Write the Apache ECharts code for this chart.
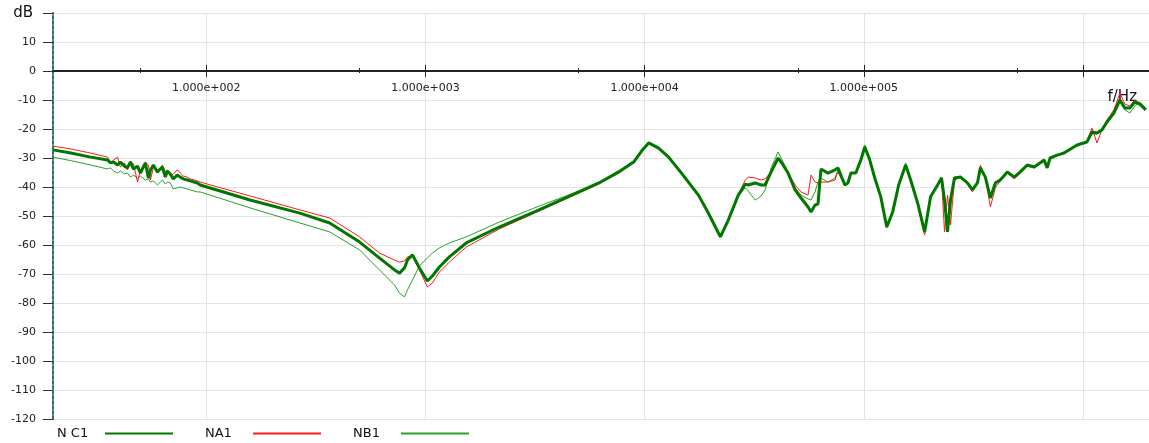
<!DOCTYPE html>
<html>
<head>
<meta charset="utf-8">
<script src="https://cdn.jsdelivr.net/npm/echarts@6/dist/echarts.min.js"></script>
<style>
  html, body { margin: 0; padding: 0; background: #ffffff; }
  #chart { width: 1149px; height: 443px; }
</style>
</head>
<body>
<div id="chart"></div>
<script>
// Frequency points (Hz) shared by the three measured traces
const freqHz = [
  20, 24.1, 29.7, 35.5, 36.6, 37.8, 39.4, 40.6, 42.4, 43.7,
  45.1, 46.6, 48.6, 50.1, 52.8, 54.5, 55.7, 57.4, 59.9, 63.1,
  65.1, 66.5, 68.6, 70.8, 73.8, 76.2, 78.6, 82.0, 84.6, 91.0,
  93.9, 158.5, 267.5, 366, 501, 618, 723, 762, 803, 828,
  873, 939, 1021, 1076, 1158, 1286, 1536, 2170, 3298, 5012,
  6180, 7617, 8913, 9691, 10430, 11580, 12860, 14730, 17600, 19540,
  20810, 22160, 24090, 26750, 28780, 29700, 31950, 34020, 35480, 37780,
  40650, 42830, 45130, 48580, 51720, 55670, 57430, 59900, 61800, 63760,
  68630, 73860, 76180, 81960, 84580, 87290, 91960, 96910, 101050, 106480,
  112200, 119500, 127230, 135450, 144230, 155200, 163560, 176010, 189380, 201640,
  217000, 226200, 233400, 240900, 248600, 259200, 276000, 297000, 313100, 329800,
  340200, 358500, 377900, 398100, 419500, 451300, 485800, 517200, 556600, 598800,
  664800, 686200, 707900, 761700, 819600, 939100, 1042000, 1099000, 1158000, 1220000,
  1286000, 1383000, 1473000, 1552000, 1635000, 1723000, 1816000, 1934000
];

// Level in dB for each trace
const nc1 = [
  -27.2, -28.3, -29.7, -30.7, -31.7, -31.4, -32.4, -31.4, -32.8, -33.4,
  -31.4, -33.8, -32.8, -35.2, -31.7, -36.9, -34.1, -32.4, -34.8, -33.1,
  -36.6, -34.5, -35.5, -37.2, -35.9, -36.6, -37.2, -37.6, -37.9, -38.6,
  -39.3, -44.5, -49.0, -52.4, -59.0, -64.5, -68.6, -69.7, -67.9, -65.2,
  -63.4, -67.9, -72.4, -70.7, -67.6, -64.1, -59.3, -53.8, -47.9, -41.7,
  -38.6, -34.8, -31.4, -27.6, -24.8, -26.6, -29.7, -35.2, -42.8, -49.0,
  -53.1, -57.2, -51.4, -42.8, -39.0, -39.3, -38.6, -39.3, -39.3, -34.8,
  -30.0, -32.4, -35.2, -41.0, -43.8, -46.9, -48.6, -46.2, -45.9, -33.8,
  -35.2, -34.1, -33.4, -39.3, -38.6, -35.2, -35.2, -30.7, -26.2, -30.7,
  -36.9, -43.4, -53.8, -48.6, -39.3, -32.4, -37.6, -45.5, -55.5, -43.4,
  -39.3, -36.9, -44.5, -55.5, -44.5, -36.9, -36.6, -38.6, -41.0, -38.6,
  -33.4, -36.6, -43.8, -38.6, -37.6, -34.8, -36.6, -34.8, -32.4, -33.1,
  -30.7, -33.4, -30.0, -29.0, -28.3, -25.5, -24.5, -21.0, -21.4, -20.3,
  -17.6, -14.5, -10.0, -12.8, -12.8, -10.7, -11.4, -13.4
];

const na1 = [
  -25.9, -26.9, -28.3, -29.7, -31.7, -30.7, -29.7, -33.1, -31.7, -34.1,
  -31.0, -32.1, -38.3, -34.1, -31.4, -32.4, -37.6, -33.1, -35.2, -32.4,
  -34.8, -34.1, -36.2, -35.5, -34.1, -35.2, -36.2, -36.6, -37.2, -37.9,
  -38.3, -43.1, -47.9, -50.7, -57.2, -62.8, -65.2, -65.9, -65.5, -64.1,
  -63.8, -68.6, -74.5, -73.1, -69.3, -65.9, -60.7, -54.5, -48.3, -42.1,
  -39.0, -35.2, -31.7, -27.9, -24.8, -26.6, -29.7, -35.2, -42.8, -49.0,
  -53.1, -56.9, -51.4, -42.8, -37.6, -36.6, -36.9, -37.6, -37.2, -34.8,
  -30.0, -32.4, -35.2, -39.3, -41.7, -42.8, -35.9, -38.3, -38.6, -38.3,
  -38.3, -37.6, -34.8, -39.3, -38.6, -35.2, -35.2, -30.7, -26.6, -30.7,
  -36.9, -43.4, -54.1, -48.6, -39.3, -32.4, -37.6, -45.9, -56.6, -43.4,
  -39.3, -36.6, -55.5, -42.8, -53.1, -37.6, -36.6, -39.0, -41.7, -38.6,
  -32.4, -36.9, -46.9, -40.3, -37.9, -35.2, -37.2, -35.2, -32.8, -33.4,
  -31.0, -33.1, -30.3, -29.0, -27.9, -25.9, -24.1, -19.7, -24.8, -20.3,
  -16.9, -13.4, -7.6, -11.4, -12.1, -10.0, -11.0, -13.4
];

const nb1 = [
  -29.7, -30.9, -32.4, -33.8, -33.4, -34.5, -35.2, -34.5, -35.5, -35.2,
  -36.6, -35.9, -36.9, -36.2, -37.6, -37.2, -38.3, -37.9, -39.3, -37.6,
  -39.0, -38.3, -38.6, -40.7, -40.3, -40.0, -40.3, -40.7, -41.0, -41.7,
  -41.7, -47.2, -52.4, -55.5, -61.7, -68.6, -73.8, -76.6, -77.9, -75.5,
  -72.1, -67.2, -64.5, -62.8, -61.0, -59.3, -57.2, -52.1, -46.6, -41.4,
  -38.6, -34.5, -31.0, -27.2, -24.5, -26.2, -29.3, -34.8, -42.4, -48.6,
  -52.8, -56.9, -51.4, -43.1, -40.3, -41.4, -44.5, -43.1, -41.0, -33.4,
  -27.9, -31.4, -34.8, -40.3, -42.8, -44.1, -44.5, -41.7, -38.3, -36.9,
  -38.3, -36.9, -34.1, -39.3, -38.6, -35.2, -34.8, -30.3, -25.5, -30.3,
  -36.6, -43.4, -53.4, -48.3, -39.0, -31.7, -37.2, -45.5, -55.2, -43.1,
  -39.0, -36.6, -44.1, -55.2, -44.1, -36.6, -36.2, -38.6, -40.7, -38.3,
  -33.1, -36.6, -43.1, -38.3, -37.2, -34.8, -36.2, -34.5, -32.4, -32.8,
  -30.7, -32.8, -30.0, -29.0, -27.9, -25.5, -24.5, -21.7, -21.7, -20.7,
  -17.6, -14.1, -10.0, -13.4, -14.5, -12.1, -10.7, -12.8
];

const seriesNames = ['N C1', 'NA1', 'NB1'];
const seriesColors = ['#007800', '#ff1a1a', '#2a9f2a'];
const seriesWidths = [3, 1, 1];

// Axis marks
const decadeTicks = [100, 1000, 10000, 100000, 1000000];
const decadeLabels = [100, 1000, 10000, 100000];
const halfDecadeTicks = [50, 500, 5000, 50000, 500000];
const verticalGrid = [50, 100, 500, 1000, 5000, 10000, 50000, 100000, 500000, 1000000];

const FONT = 'DejaVu Sans';

// Plot area and level range
const CHART_H = 443;
const GRID = { left: 53, right: -3, top: 13, bottom: 24 };
const DB_MIN = -120;
const DB_MAX = 20;

// The frequency axes run along the 0 dB line: shift them from the plot edges
const plotH = CHART_H - GRID.top - GRID.bottom;
const zeroFromTop = plotH * (DB_MAX - 0) / (DB_MAX - DB_MIN);
const zeroFromBottom = plotH - zeroFromTop;

function sciLabel(v) {
  const parts = Number(v).toExponential(3).split('e');
  const exp = parseInt(parts[1], 10);
  return parts[0] + 'e' + (exp < 0 ? '-' : '+') + String(Math.abs(exp)).padStart(3, '0');
}

function pairs(values) {
  return freqHz.map((f, i) => [f, values[i]]);
}

function freqAxis(position, extra) {
  return Object.assign({
    type: 'log',
    logBase: 10,
    min: 20,
    max: 2000000,
    position: position,
    offset: position === 'bottom' ? -zeroFromBottom : -zeroFromTop,
    axisLine: { show: true, onZero: false, lineStyle: { color: '#222', width: 1.5 } },
    axisTick: { show: false },
    axisLabel: { show: false },
    splitLine: { show: false }
  }, extra);
}

const chart = echarts.init(document.getElementById('chart'), null, { renderer: 'canvas' });

chart.setOption({
  animation: false,
  backgroundColor: '#ffffff',
  grid: Object.assign({ containLabel: false }, GRID),
  legend: {
    data: seriesNames,
    left: 57,
    top: 427,
    padding: 0,
    align: 'right',
    itemWidth: 68,
    itemHeight: 14,
    itemGap: 31,
    itemStyle: { opacity: 0 },
    // each name sits left-aligned in a fixed slot before its line sample
    formatter: name => '{n|' + name + '}',
    textStyle: {
      fontFamily: FONT, fontSize: 13, color: '#111',
      rich: { n: { width: 43, align: 'left', fontFamily: FONT, fontSize: 13, color: '#111' } }
    }
  },
  xAxis: [
    // decade ticks below the line, with labels and the vertical grid
    freqAxis('bottom', {
      name: 'f/Hz',
      nameLocation: 'end',
      nameGap: -12,
      nameTextStyle: {
        fontFamily: FONT, fontSize: 15, color: '#111',
        align: 'right', verticalAlign: 'top', padding: [19, 0, 0, 0]
      },
      axisTick: { show: true, inside: false, length: 6, customValues: decadeTicks, lineStyle: { color: '#222' } },
      axisLabel: {
        show: true, customValues: decadeLabels, margin: 12,
        fontFamily: FONT, fontSize: 11, color: '#222',
        formatter: sciLabel
      },
      splitLine: { show: true, customValues: verticalGrid, lineStyle: { color: '#e3e3e3', width: 1 } }
    }),
    // decade ticks above the line
    freqAxis('top', {
      axisTick: { show: true, inside: false, length: 6, customValues: decadeTicks, lineStyle: { color: '#222' } }
    }),
    // half-decade ticks below the line
    freqAxis('bottom', {
      axisTick: { show: true, inside: false, length: 2, customValues: halfDecadeTicks, lineStyle: { color: '#222' } }
    }),
    // half-decade ticks above the line
    freqAxis('top', {
      axisTick: { show: true, inside: false, length: 3, customValues: halfDecadeTicks, lineStyle: { color: '#222' } }
    })
  ],
  yAxis: {
    type: 'value',
    min: DB_MIN,
    max: DB_MAX,
    interval: 10,
    name: 'dB',
    nameLocation: 'end',
    nameGap: 0,
    nameTextStyle: {
      fontFamily: FONT, fontSize: 15, color: '#111',
      align: 'right', verticalAlign: 'middle', padding: [0, 20, 0, 0]
    },
    axisLine: { show: true, onZero: false, lineStyle: { color: '#2a6f70', width: 2, type: [3, 2] } },
    axisTick: { show: true, inside: false, length: 10, lineStyle: { color: '#333' } },
    axisLabel: {
      margin: 17, fontFamily: FONT, fontSize: 11, color: '#222',
      formatter: v => (v === DB_MAX ? '' : String(v))
    },
    splitLine: { show: true, lineStyle: { color: '#e3e3e3', width: 1 } }
  },
  series: [
    { name: seriesNames[0], data: pairs(nc1), z: 4 },
    { name: seriesNames[1], data: pairs(na1), z: 3 },
    { name: seriesNames[2], data: pairs(nb1), z: 2 }
  ].map((s, i) => Object.assign({
    type: 'line',
    xAxisIndex: 0,
    symbol: 'none',
    smooth: false,
    color: seriesColors[i],
    lineStyle: { color: seriesColors[i], width: seriesWidths[i] }
  }, s))
});
</script>
</body>
</html>
